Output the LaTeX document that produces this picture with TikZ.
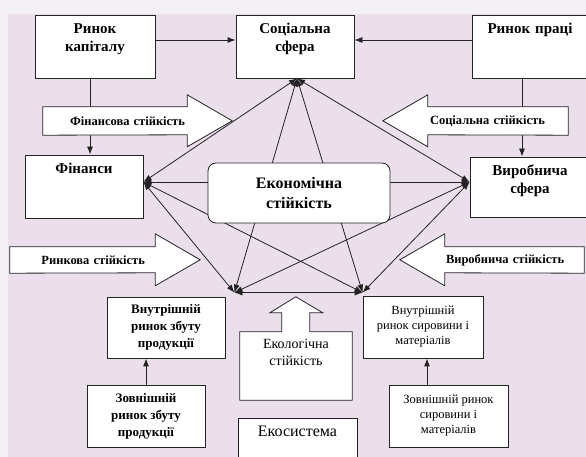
\documentclass[tikz,border=0pt]{standalone}
\usepackage{fontspec}
\setmainfont{Liberation Serif}
\usetikzlibrary{arrows.meta, positioning, calc}

\definecolor{paper}{RGB}{235,223,236}
\definecolor{rim}{RGB}{244,241,245}
\definecolor{ink}{RGB}{35,35,35}

\pgfdeclarelayer{paperlayer}
\pgfdeclarelayer{wires}
\pgfdeclarelayer{shapes}
\pgfsetlayers{paperlayer,wires,shapes,main}

\begin{document}
\begin{tikzpicture}[x=1pt, y=1pt, >={Latex[length=8pt,width=6pt]},
  box/.style={draw=ink, fill=white, line width=0.8pt, align=center, inner sep=0pt},
  topbox/.style={box, inner ysep=6pt, text height=13pt, text depth=#1,
    font=\fontsize{15}{18}\selectfont\bfseries},
  lowbox/.style={box, font=\fontsize{13}{17}\selectfont\bfseries},
  thinbox/.style={box, font=\fontsize{12.5}{15}\selectfont},
  arrowtxt/.style={inner ysep=0pt, font=\fontsize{12.5}{15}\selectfont\bfseries},
  blockarrow/.style={draw=ink, fill=white, line width=0.8pt},
  link/.style={<->, draw=ink, line width=0.8pt},
  conn/.style={->, draw=ink, line width=0.8pt}]

  \useasboundingbox (0,0) rectangle (586,457);
  \begin{pgfonlayer}{paperlayer}
    \fill[rim] (0,0) rectangle (586,457);
    \fill[paper] (8,0) rectangle (586,443);
  \end{pgfonlayer}

  % markets and spheres, top row
  \node[topbox=38pt, text width=120pt] (rk) at (95,410.5) {Ринок\\капіталу};
  \node[topbox=38pt, text width=118pt] (ss) at (295,410.5) {Соціальна\\сфера};
  \node[topbox=38pt, text width=116pt] (rp) at (530,410.5) {Ринок праці};

  % middle row
  \node[topbox=38pt, text width=118pt] (fin) at (84,270.5) {Фінанси};
  \node[topbox=35pt, text width=120pt] (vs) at (530,270) {Виробнича\\сфера};
  \node[box, rounded corners=8pt, minimum width=182pt, minimum height=60pt,
    font=\fontsize{16}{20}\selectfont\bfseries] (es) at (299,264) {Економічна\\стійкість};

  % bottom rows
  \node[lowbox, minimum width=118pt, minimum height=61pt] (vz) at (166,129.5) {Внутрішній\\ринок збуту\\продукції};
  \node[thinbox, minimum width=120pt, minimum height=62pt] (vm) at (423,130) {Внутрішній\\ринок сировини і\\матеріалів};
  \node[lowbox, minimum width=118pt, minimum height=62pt] (zz) at (146,41) {Зовнішній\\ринок збуту\\продукції};
  \node[thinbox, minimum width=119pt, minimum height=62pt] (zm) at (448.5,41) {Зовнішній ринок\\сировини і\\матеріалів};
  \node[topbox=23pt, text width=119pt, font=\fontsize{16}{19}\selectfont] (eko) at (297.5,15) {Екосистема};

  % block arrow labels
  \node[arrowtxt, text width=140pt, inner xsep=2pt, minimum height=28pt, align=right] (fsa) at (115,336) {Фінансова стійкість};
  \node[arrowtxt, text width=136pt, inner xsep=2pt, minimum height=28pt, align=left] (ssa) at (498,336) {Соціальна стійкість};
  \node[arrowtxt, text width=125pt, inner xsep=10pt, minimum height=26pt, align=right] (rsa) at (82.5,197) {Ринкова стійкість};
  \node[arrowtxt, text width=137pt, inner xsep=1pt, minimum height=26pt, align=left] (vsa) at (514.5,197) {Виробнича стійкість};
  \node[inner sep=0pt, inner ysep=6pt, text height=11pt, text depth=45pt, text width=112pt,
    align=center, font=\fontsize{14}{17}\selectfont] (esa) at (296,91) {Екологічна\\стійкість};

  % hubs where the links meet
  \coordinate (hs) at ([xshift=2pt]ss.south);
  \coordinate (hf) at ([yshift=4.5pt]fin.east);
  \coordinate (hv) at ([yshift=5pt]vs.west);
  \coordinate (ha) at ([shift={(9pt,4pt)}]vz.north east);
  \coordinate (hb) at ([yshift=3pt]vm.north west);

  \begin{pgfonlayer}{wires}
    \foreach \a/\b in {hs/hf, hs/hv, hs/ha, hs/hb, hf/hv, hf/ha, hf/hb, hv/ha, hv/hb, ha/hb}
      \draw[link] (\a) -- (\b);
    \draw[conn] ([yshift=6.5pt]rk.east) -- ([yshift=6.5pt]ss.west);
    \draw[conn] ([yshift=6.5pt]rp.west) -- ([yshift=6.5pt]ss.east);
    \draw[conn] ([xshift=-5pt]rk.south) -- ([xshift=-5pt]rk.south |- fin.north);
    \draw[conn] ([xshift=-8pt]rp.south) -- ([xshift=-8pt]rp.south |- vs.north);
    \draw[conn] (zz.north) -- (zz.north |- vz.south);
    \draw[conn] ([xshift=4pt]vm.south |- zm.north) -- ([xshift=4pt]vm.south);
  \end{pgfonlayer}

  \begin{pgfonlayer}{shapes}
    \draw[blockarrow] (fsa.south west) -- (fsa.north west) -- (fsa.north east)
      -- ++(0,12) -- ++(45,-26) -- ++(-45,-26) -- ++(0,12) -- cycle;
    \draw[blockarrow] (ssa.south east) -- (ssa.north east) -- (ssa.north west)
      -- ++(0,12) -- ++(-45,-26) -- ++(45,-26) -- ++(0,12) -- cycle;
    \draw[blockarrow] (rsa.south west) -- (rsa.north west) -- (rsa.north east)
      -- ++(0,13) -- ++(45,-26) -- ++(-45,-26) -- ++(0,13) -- cycle;
    \draw[blockarrow] (vsa.south east) -- (vsa.north east) -- (vsa.north west)
      -- ++(0,13) -- ++(-45,-26) -- ++(45,-26) -- ++(0,13) -- cycle;
    \draw[blockarrow] (esa.south west) -- (esa.north west) -- ++(42,0) -- ++(0,19)
      -- ++(-12,0) -- ++(26,16) -- ++(27,-16) -- ++(-13,0) -- ++(0,-19)
      -- (esa.north east) -- (esa.south east) -- cycle;
  \end{pgfonlayer}
\end{tikzpicture}
\end{document}
